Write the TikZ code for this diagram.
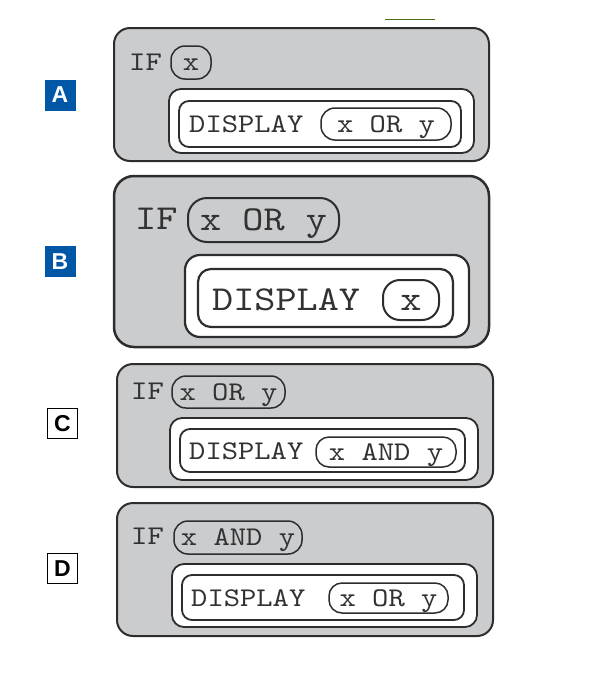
\documentclass[tikz,border=0pt]{standalone}
\usepackage{fontspec}
\newfontfamily\labelfont{Liberation Sans}
\newfontfamily\codefont{lmmono10-regular.otf}[FakeStretch=1.15]
\usepackage{tikz}
\usepackage{color}

\definecolor{panelgray}{RGB}{203,204,206}
\definecolor{labelblue}{RGB}{0,87,166}
\definecolor{edge}{RGB}{45,45,45}
\definecolor{ink}{RGB}{50,50,50}
\definecolor{rulegreen}{RGB}{80,110,30}

\tikzset{
  panel/.style={fill=panelgray, draw=edge, line width=2pt, rounded corners=16pt},
  slot/.style={fill=white, draw=edge, line width=1.8pt, rounded corners=12pt},
  pill/.style={draw=edge, line width=1.5pt, rounded corners=14pt, inner sep=0pt},
  word/.style={anchor=west, inner sep=0pt},
  codeS/.style={font=\codefont\fontsize{27}{27}\selectfont, text=ink, text height=16.5pt, text depth=0pt},
  codeL/.style={font=\codefont\fontsize{35}{35}\selectfont, text=ink, text height=21.4pt, text depth=0pt},
  tag/.style={minimum size=31pt, inner sep=0pt, font=\labelfont\bfseries\fontsize{23}{23}\selectfont}
}

\begin{document}
\begin{tikzpicture}[x=1pt, y=-1pt]
\useasboundingbox (0,0) rectangle (597,678);

\draw [draw=rulegreen, line width=1pt] (385,19) -- (435,19);

% A
\draw [panel] (114,28) rectangle (489,161);
\node [tag, fill=labelblue, text=white] (tagA) at (60,95) {A};
\node [word, codeS] (ifA) at (129,62) {IF};
\node [pill, codeS, minimum width=40pt, minimum height=33pt] (condA) at (191,62.5) {x};
\draw [slot] (169,89) rectangle (474,153);
\draw [slot, rounded corners=10pt] (179,101) rectangle (461,147);
\node [word, codeS] (dispA) at (189,124) {DISPLAY};
\node [pill, codeS, minimum width=130pt, minimum height=32pt] (outA) at (386,124) {x OR y};

% B
\draw [panel, line width=2.5pt, rounded corners=20pt] (114,176) rectangle (489,347);
\node [tag, fill=labelblue, text=white] (tagB) at (60,261.5) {B};
\node [word, codeL] (ifB) at (135,219) {IF};
\node [pill, codeL, line width=2pt, rounded corners=19pt, minimum width=151pt, minimum height=44pt] (condB) at (263.5,220) {x OR y};
\draw [slot, line width=2.2pt, rounded corners=15pt] (185,255) rectangle (469,337);
\draw [slot, line width=2.2pt, rounded corners=13pt] (198,269) rectangle (453,327);
\node [word, codeL] (dispB) at (212,300) {DISPLAY};
\node [pill, codeL, line width=2pt, rounded corners=17pt, minimum width=56pt, minimum height=40pt] (outB) at (411,300) {x};

% C
\draw [panel] (117,364) rectangle (493,487);
\node [tag, draw=black, line width=1.2pt, fill=white, text=black, minimum size=30pt] (tagC) at (62.5,423.5) {C};
\node [word, codeS] (ifC) at (131,391) {IF};
\node [pill, codeS, minimum width=113pt, minimum height=32pt] (condC) at (228.5,392) {x OR y};
\draw [slot] (170,418) rectangle (478,480);
\draw [slot, rounded corners=10pt] (180,429) rectangle (465,472);
\node [word, codeS] (dispC) at (189,451) {DISPLAY};
\node [pill, codeS, rounded corners=13pt, minimum width=140pt, minimum height=30pt] (outC) at (386,452) {x AND y};

% D
\draw [panel] (117,503) rectangle (493,636);
\node [tag, draw=black, line width=1.2pt, fill=white, text=black, minimum size=30pt] (tagD) at (62.5,568.5) {D};
\node [word, codeS] (ifD) at (131,536) {IF};
\node [pill, codeS, minimum width=128pt, minimum height=33pt] (condD) at (238,537.5) {x AND y};
\draw [slot] (172,564) rectangle (477,627);
\draw [slot, rounded corners=10pt] (182,575) rectangle (464,620);
\node [word, codeS] (dispD) at (191,598) {DISPLAY};
\node [pill, codeS, rounded corners=13pt, minimum width=119pt, minimum height=30pt] (outD) at (388.5,598) {x OR y};
\end{tikzpicture}
\end{document}
